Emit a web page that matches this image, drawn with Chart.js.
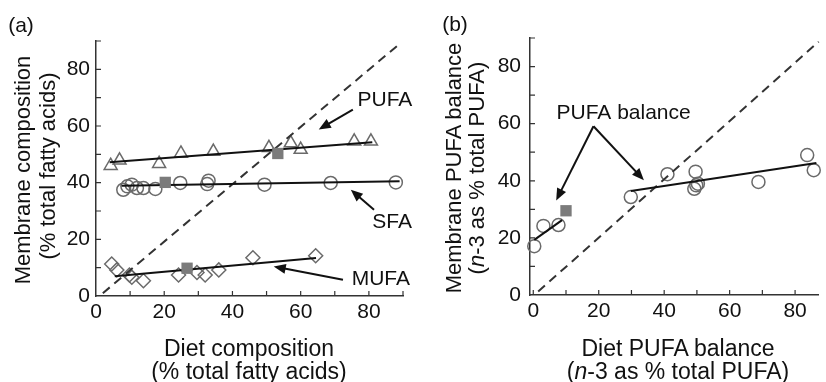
<!DOCTYPE html>
<html>
<head>
<meta charset="utf-8">
<script src="https://cdn.jsdelivr.net/npm/chart.js@4.4.1/dist/chart.umd.min.js"></script>
<style>
  body { margin: 0; background: #fff; }
  #wrap { position: relative; width: 826px; height: 382px; overflow: hidden;
          font-family: "Liberation Sans", Arial, sans-serif; color: #111; }
  canvas { position: absolute; top: 0; }
  .lbl { position: absolute; white-space: nowrap; transform: translate(-50%, -50%); font-size: 23px; line-height: 1; }
  .rot { transform: translate(-50%, -50%) rotate(-90deg); font-size: 22px; }
  .tag { font-size: 21px; }
</style>
</head>
<body>
<div id="wrap">
  <canvas id="chartA" width="413" height="382" style="left:0"></canvas>
  <canvas id="chartB" width="406" height="382" style="left:420px"></canvas>

  <div class="lbl tag" style="left:21px; top:24px">(a)</div>
  <div class="lbl rot" style="left:23px; top:170px">Membrane composition</div>
  <div class="lbl rot" style="left:48px; top:166px">(% total fatty acids)</div>
  <div class="lbl" style="left:249px; top:348px">Diet composition</div>
  <div class="lbl" style="left:249px; top:371px">(% total fatty acids)</div>

  <div class="lbl tag" style="left:455px; top:23px">(b)</div>
  <div class="lbl rot" style="left:454px; top:168px">Membrane PUFA balance</div>
  <div class="lbl rot" style="left:477px; top:168px">(<i>n</i>-3 as % total PUFA)</div>
  <div class="lbl" style="left:678px; top:348px">Diet PUFA balance</div>
  <div class="lbl" style="left:678px; top:371px">(<i>n</i>-3 as % total PUFA)</div>
</div>

<script>
// ---- panel (a): diet vs membrane fatty acid composition ----
const pufaX = [4.3, 6.9, 18.5, 24.9, 34.4, 50.7, 57.1, 60, 75.7, 80.6];
const pufaY = [46, 47.9, 46.7, 50.3, 51, 52.3, 54, 51.7, 54.6, 54.6];
const sfaX  = [8, 9.2, 10.5, 12, 13.9, 17.4, 24.7, 32.6, 33, 49.4, 68.8, 87.9];
const sfaY  = [37.5, 38.7, 39.3, 38.1, 38.1, 37.8, 39.9, 39.5, 40.7, 39.3, 39.9, 40.1];
const mufaX = [4.6, 6.1, 9.8, 10.5, 13.9, 24.2, 29.6, 32, 36, 46, 64.4];
const mufaY = [11.3, 9.2, 7.4, 6.6, 5.4, 7.4, 8.3, 7.4, 9.2, 13.5, 14.2];
const meanAX = [53.3, 20.3, 26.7];   // grey squares (PUFA, SFA, MUFA)
const meanAY = [50.3, 40.1, 9.8];

const pufaFitX = [4, 81],    pufaFitY = [47.2, 54.3];
const sfaFitX  = [7.5, 89],  sfaFitY  = [38.9, 40.5];
const mufaFitX = [5.5, 64.5], mufaFitY = [7, 13.4];
const unityAX  = [2, 89.5],  unityAY  = [1, 89.5];

// ---- panel (b): n-3 as % of total PUFA ----
const balX = [0.3, 3.1, 7.7, 29.8, 41, 49.6, 49.2, 49.8, 50.3, 68.8, 83.7, 85.7];
const balY = [17.1, 24.2, 24.5, 34.3, 42.3, 43.2, 37.2, 38.4, 39, 39.6, 49, 43.7];
const meanBX = [10], meanBY = [29.5];
const fit1X = [0.3, 8.8],   fit1Y = [19.3, 26.2];
const fit2X = [29.8, 86.5], fit2Y = [36.4, 46.2];
const unityBX = [1.5, 87.2], unityBY = [1.2, 88.7];

// axis ticks (marks every 10, labels every 20)
const tickValues = [0, 10, 20, 30, 40, 50, 60, 70, 80, 90];
const tickLabels = [0, 20, 40, 60, 80];

const pts = (xs, ys) => xs.map((x, i) => ({ x: x, y: ys[i] }));

// inward tick marks + arrows/labels drawn in data units
const extras = {
    id: 'extras',
    afterDraw(chart, args, opts) {
        const ctx = chart.ctx, sx = chart.scales.x, sy = chart.scales.y;
        ctx.save();
        ctx.strokeStyle = '#333';
        ctx.lineWidth = 1.2;
        ctx.beginPath();
        tickValues.forEach(v => {
            if (v > sx.min && v <= sx.max) {
                const px = sx.getPixelForValue(v);
                ctx.moveTo(px, sx.top); ctx.lineTo(px, sx.top - 5);
            }
            if (v > sy.min && v <= sy.max) {
                const py = sy.getPixelForValue(v);
                ctx.moveTo(sy.right, py); ctx.lineTo(sy.right + 5, py);
            }
        });
        ctx.stroke();

        ctx.strokeStyle = '#111';
        ctx.fillStyle = '#111';
        ctx.lineWidth = 2;
        (opts.arrows || []).forEach(a => {
            const x1 = sx.getPixelForValue(a[0]), y1 = sy.getPixelForValue(a[1]);
            const x2 = sx.getPixelForValue(a[2]), y2 = sy.getPixelForValue(a[3]);
            const ang = Math.atan2(y2 - y1, x2 - x1), L = 12, W = 5;
            ctx.beginPath();
            ctx.moveTo(x1, y1);
            ctx.lineTo(x2 - L * 0.8 * Math.cos(ang), y2 - L * 0.8 * Math.sin(ang));
            ctx.stroke();
            ctx.beginPath();
            ctx.moveTo(x2, y2);
            ctx.lineTo(x2 - L * Math.cos(ang) + W * Math.sin(ang), y2 - L * Math.sin(ang) - W * Math.cos(ang));
            ctx.lineTo(x2 - L * Math.cos(ang) - W * Math.sin(ang), y2 - L * Math.sin(ang) + W * Math.cos(ang));
            ctx.closePath();
            ctx.fill();
        });

        ctx.font = '21px "Liberation Sans", Arial, sans-serif';
        ctx.textAlign = 'center';
        ctx.textBaseline = 'middle';
        (opts.texts || []).forEach(t => {
            ctx.fillText(t[0], sx.getPixelForValue(t[1]), sy.getPixelForValue(t[2]));
        });
        ctx.restore();
    }
};

function axis(min, max, size, pad, horizontal) {
    return {
        type: 'linear', min: min, max: max,
        afterFit: s => { if (horizontal) s.height = size; else s.width = size; },
        afterBuildTicks: s => { s.ticks = tickValues.filter(v => v >= s.min && v <= s.max).map(v => ({ value: v })); },
        grid: { display: false, drawTicks: false },
        border: { display: true, color: '#333', width: 1.5 },
        ticks: {
            autoSkip: false, maxRotation: 0, padding: pad, color: '#111',
            font: { family: '"Liberation Sans", Arial, sans-serif', size: 21 },
            callback: v => tickLabels.includes(v) ? v : ''
        }
    };
}

const lineDs = (xs, ys, dash) => ({
    data: pts(xs, ys), showLine: true, pointRadius: 0, borderColor: '#111',
    borderWidth: 2, borderDash: dash || [], clip: false
});
const markDs = (xs, ys, style, r) => ({
    data: pts(xs, ys), showLine: false, pointStyle: style, pointRadius: r,
    borderColor: '#6a6a6a', backgroundColor: 'rgba(0,0,0,0)', pointBorderWidth: 1.5, clip: false
});
const meanDs = (xs, ys) => ({
    data: pts(xs, ys), showLine: false, pointStyle: 'rect', pointRadius: 8,
    backgroundColor: '#7b7b7b', borderColor: '#7b7b7b', pointBorderWidth: 0, clip: false
});

const baseOpts = (padTop, left, bottom, xmin, xmax, xpad, ypad, notes) => ({
    responsive: false, animation: false, devicePixelRatio: 1,
    layout: { padding: { top: padTop, right: 10, left: 0, bottom: 0 } },
    plugins: { legend: { display: false }, tooltip: { enabled: false }, extras: notes },
    scales: { x: axis(xmin, xmax, bottom, xpad, true), y: axis(0, 90, left, ypad, false) }
});

new Chart(document.getElementById('chartA'), {
    type: 'scatter',
    data: { datasets: [
        meanDs(meanAX, meanAY),
        lineDs(pufaFitX, pufaFitY),
        lineDs(sfaFitX, sfaFitY),
        lineDs(mufaFitX, mufaFitY),
        Object.assign(lineDs(unityAX, unityAY, [9, 6]), { borderColor: '#333' }),
        markDs(pufaX, pufaY, 'triangle', 7.5),
        markDs(sfaX, sfaY, 'circle', 6.5),
        markDs(mufaX, mufaY, 'rectRot', 7)
    ] },
    options: baseOpts(41, 96, 86, 0, 90, 4, 6, {
        arrows: [[75.3, 65.8, 65.3, 58.8], [81.5, 30.4, 74.7, 37.5], [72.4, 5.7, 52.1, 10.4]],
        texts: [['PUFA', 84.7, 69], ['SFA', 86.8, 26.2], ['MUFA', 83.5, 6]]
    }),
    plugins: [extras]
});

const optsB = baseOpts(38, 110, 87, -1, 87, 4, 9, {
    arrows: [[18.4, 59.1, 7, 33.1], [18.4, 59.1, 33.8, 40.2]],
    texts: [['PUFA balance', 27.6, 63.5]]
});
optsB.layout.padding.right = 0;

new Chart(document.getElementById('chartB'), {
    type: 'scatter',
    data: { datasets: [
        meanDs(meanBX, meanBY),
        lineDs(fit1X, fit1Y),
        lineDs(fit2X, fit2Y),
        Object.assign(lineDs(unityBX, unityBY, [9, 6]), { borderColor: '#333' }),
        markDs(balX, balY, 'circle', 6.5)
    ] },
    options: optsB,
    plugins: [extras]
});
</script>
</body>
</html>
